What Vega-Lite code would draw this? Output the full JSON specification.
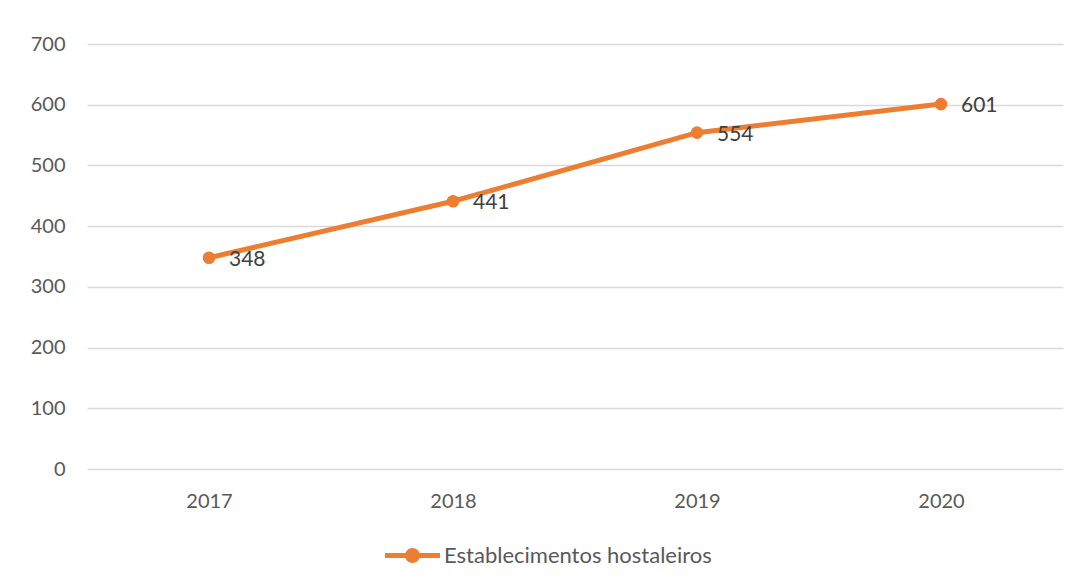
{
  "$schema": "https://vega.github.io/schema/vega-lite/v6.json",
  "width": 976,
  "height": 425,
  "autosize": {"type": "none"},
  "padding": {"left": 87, "top": 44, "right": 16, "bottom": 114},
  "background": "white",
  "config": {
    "view": {"stroke": null},
    "font": "Lato",
    "axis": {"labelFont": "Lato", "labelColor": "#595959", "labelFontSize": 20}
  },
  "data": {
    "values": [
      {"year": "2017", "value": 348, "series": "Establecimentos hostaleiros"},
      {"year": "2018", "value": 441, "series": "Establecimentos hostaleiros"},
      {"year": "2019", "value": 554, "series": "Establecimentos hostaleiros"},
      {"year": "2020", "value": 601, "series": "Establecimentos hostaleiros"}
    ]
  },
  "encoding": {
    "x": {
      "field": "year", "type": "ordinal",
      "scale": {"type": "point", "padding": 0.5},
      "axis": {"title": null, "labelAngle": 0, "ticks": false, "domain": false, "grid": false, "labelPadding": 22}
    },
    "y": {
      "field": "value", "type": "quantitative",
      "scale": {"domain": [0, 700], "nice": false},
      "axis": {"title": null, "values": [0,100,200,300,400,500,600,700], "ticks": false, "domain": false, "grid": true, "gridColor": "#d9d9d9", "gridWidth": 1.5, "labelPadding": 22}
    }
  },
  "layer": [
    {
      "mark": {"type": "line", "color": "#ED7D31", "strokeWidth": 5, "strokeCap": "round"}
    },
    {
      "mark": {"type": "point", "filled": true, "opacity": 1, "size": 160},
      "encoding": {
        "color": {
          "field": "series", "type": "nominal",
          "scale": {"range": ["#ED7D31"]},
          "legend": {
            "title": null,
            "orient": "none",
            "legendX": 298,
            "legendY": 484,
            "direction": "horizontal",
            "symbolType": "M-1,-0.09H1V0.09H-1Z M-0.27,0 A0.27,0.27 0 1,1 0.27,0 A0.27,0.27 0 1,1 -0.27,0 Z",
            "symbolSize": 3025,
            "symbolStrokeWidth": 0,
            "symbolOpacity": 1,
            "labelFont": "Lato",
            "labelFontSize": 22,
            "labelColor": "#595959",
            "labelLimit": 400,
            "labelOffset": 4
          }
        }
      }
    },
    {
      "mark": {"type": "text", "align": "left", "baseline": "middle", "dx": 20, "dy": 2, "fontSize": 21, "font": "Lato", "color": "#404040"},
      "encoding": {"text": {"field": "value", "type": "quantitative"}}
    }
  ]
}
